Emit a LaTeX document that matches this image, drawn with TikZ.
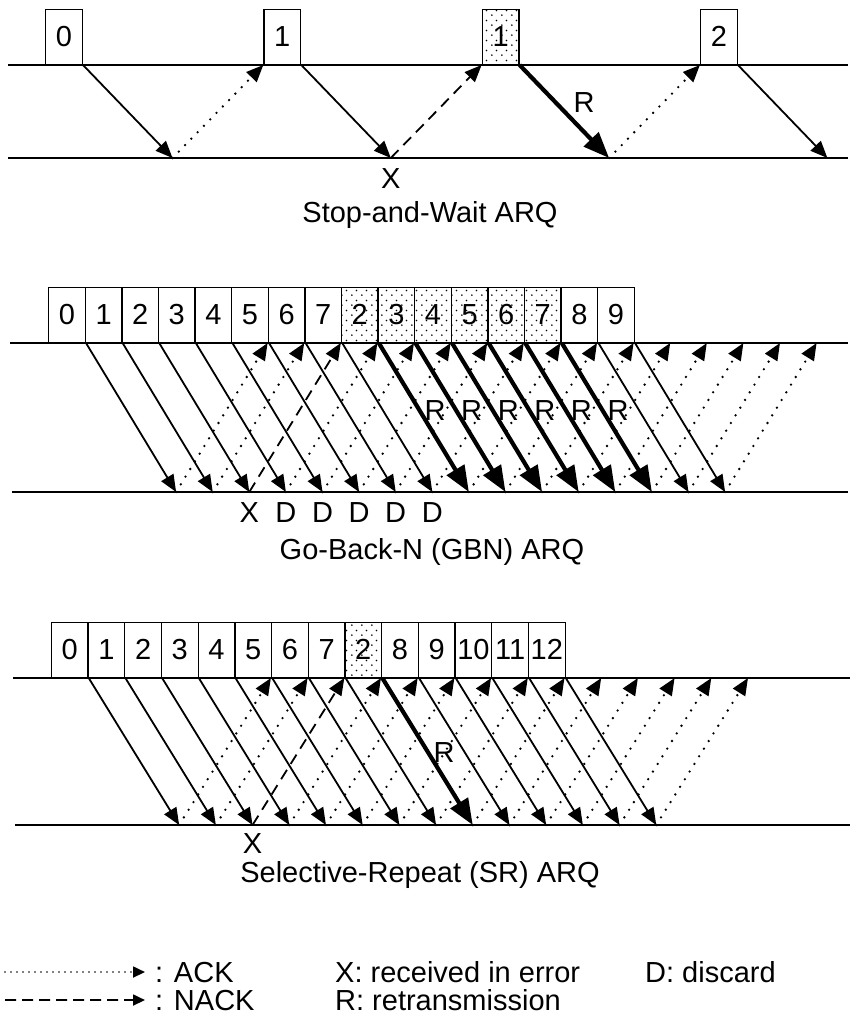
\documentclass[tikz,border=0pt]{standalone}
\usepackage{fontspec}
\setmainfont{Liberation Sans}
\usetikzlibrary{arrows.meta,positioning,patterns}

\pgfdeclarepatternformonly{sparsedots}{\pgfqpoint{0pt}{0pt}}{\pgfqpoint{10pt}{10pt}}{\pgfqpoint{10pt}{10pt}}{%
  \pgfpathcircle{\pgfqpoint{2pt}{2pt}}{1pt}%
  \pgfpathcircle{\pgfqpoint{7pt}{7pt}}{1pt}%
  \pgfusepath{fill}}

\begin{document}
\begin{tikzpicture}[x=1pt, y=-1pt,
    frm/.style={draw, line width=1.3pt, minimum width=36.7pt, minimum height=55pt, inner sep=0pt, anchor=south west, font=\fontsize{29}{31}\selectfont},
    retx/.style={frm, pattern=sparsedots},
    lbl/.style={inner sep=0pt, font=\fontsize{29}{31}\selectfont},
    base/.style={line width=2.4pt},
    data/.style={line width=1.8pt, -{Triangle[length=17pt, width=14pt]}},
    rdata/.style={line width=4.2pt, -{Triangle[length=26pt, width=20pt]}},
    ack/.style={line width=2.6pt, line cap=round, dash pattern=on 0pt off 9pt, -{Triangle[length=17pt, width=14pt]}},
    nack/.style={line width=1.8pt, dash pattern=on 11pt off 7pt, -{Triangle[length=17pt, width=14pt]}},
    ackl/.style={line width=1.8pt, line cap=round, dash pattern=on 0pt off 6pt, -{Triangle[length=12pt, width=11pt]}},
    nackl/.style={line width=1.8pt, dash pattern=on 11pt off 6pt, -{Triangle[length=12pt, width=11pt]}}
]
\useasboundingbox (0,0) rectangle (850,1027);

% Stop-and-Wait
\draw[base] (8,65) -- (848,65);
\draw[base] (8,158) -- (848,158);
\node[frm] (s0) at (45,65) {0};
\node[frm] (s1) at (263.3,65) {1};
\node[retx] (s2) at (481.6,65) {1};
\node[frm] (s3) at (699.9,65) {2};
\coordinate (sa0) at (172.5,158);
\coordinate (sa1) at (390.8,158);
\coordinate (sa2) at (609.1,158);
\coordinate (sa3) at (827.4,158);
\draw[data] (s0.south east) -- (sa0);
\draw[ack] (sa0) -- (s1.south west);
\draw[data] (s1.south east) -- (sa1);
\draw[nack] (sa1) -- (s2.south west);
\draw[rdata] (s2.south east) -- node[pos=.4, right=16pt, lbl] (sr) {R} (sa2);
\draw[ack] (sa2) -- (s3.south west);
\draw[data] (s3.south east) -- (sa3);
\node[lbl, below=10pt of sa1] (sx) {X};
\node[lbl, anchor=base] (scap) at (430,222) {Stop-and-Wait ARQ};

% Go-Back-N
\draw[base] (10,343) -- (848,343);
\draw[base] (12,492) -- (848,492);
\foreach \lab/\fs/\ds/\as [count=\i from 0] in {0/frm/data/ack, 1/frm/data/ack,
    2/frm/data/nack, 3/frm/data/ack, 4/frm/data/ack, 5/frm/data/ack, 6/frm/data/ack,
    7/frm/data/ack, 2/retx/rdata/ack, 3/retx/rdata/ack, 4/retx/rdata/ack,
    5/retx/rdata/ack, 6/retx/rdata/ack, 7/retx/rdata/ack, 8/frm/data/ack, 9/frm/data/ack}{
  \pgfmathsetmacro{\xl}{48+36.6*\i}
  \node[\fs] (g\i) at (\xl,343) {\lab};
  \coordinate (ga\i) at (\xl+128.1,492);
  \coordinate (gt\i) at (\xl+219.6,343);
  \draw[\ds] (g\i.south east) -- (ga\i);
  \draw[\as] (ga\i) -- (gt\i);
}
\foreach \i in {8,...,13}
  \path (g\i.south east) -- node[pos=.45, right=5pt, lbl] (gr\i) {R} (ga\i);
\node[lbl, below=10pt of ga2] (gx) {X};
\foreach \i in {3,...,7}
  \node[lbl, below=10pt of ga\i] (gd\i) {D};
\node[lbl, anchor=base] (gcap) at (432,559) {Go-Back-N (GBN) ARQ};

% Selective-Repeat
\draw[base] (13,678) -- (850,678);
\draw[base] (15,825) -- (850,825);
\foreach \lab/\fs/\ds/\as [count=\i from 0] in {0/frm/data/ack, 1/frm/data/ack,
    2/frm/data/nack, 3/frm/data/ack, 4/frm/data/ack, 5/frm/data/ack, 6/frm/data/ack,
    7/frm/data/ack, 2/retx/rdata/ack, 8/frm/data/ack, 9/frm/data/ack,
    10/frm/data/ack, 11/frm/data/ack, 12/frm/data/ack}{
  \pgfmathsetmacro{\xl}{50.7+36.7*\i}
  \node[\fs] (r\i) at (\xl,678) {\lab};
  \coordinate (ra\i) at (\xl+128.45,825);
  \coordinate (rt\i) at (\xl+220.2,678);
  \draw[\ds] (r\i.south east) -- (ra\i);
  \draw[\as] (ra\i) -- (rt\i);
}
\path (r8.south east) -- node[pos=.51, right=5pt, lbl] (rr8) {R} (ra8);
\node[lbl, below=8pt of ra2] (rx) {X};
\node[lbl, anchor=base] (rcap) at (420,882) {Selective-Repeat (SR) ARQ};

% legend
\coordinate (ackst) at (5,972);
\coordinate (nackst) at (5,1000);
\node[lbl, anchor=base west] (lack) at (155,982) {: ACK};
\node[lbl, anchor=base west] (lnack) at (155,1010) {: NACK};
\node[lbl, anchor=base west] (lerr) at (335,982) {X: received in error};
\node[lbl, anchor=base west] (lret) at (335,1010) {R: retransmission};
\node[lbl, anchor=base west] (ldis) at (645,982) {D: discard};
\draw[ackl] (ackst) -- ([xshift=-10pt]lack.west);
\draw[nackl] (nackst) -- ([xshift=-10pt]lnack.west);
\end{tikzpicture}
\end{document}
